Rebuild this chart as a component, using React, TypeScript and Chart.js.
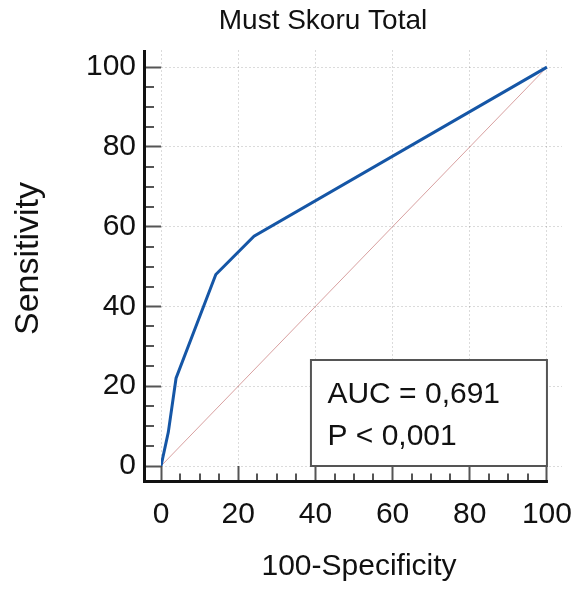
import { useEffect, useRef } from 'react';
import { Chart, registerables } from 'chart.js';

Chart.register(...registerables);

const chartTitle = 'Must Skoru Total';
const xAxisTitle = '100-Specificity';
const yAxisTitle = 'Sensitivity';
const falsePositiveRate = [0, 1.9, 3.9, 14.2, 24.1, 100];
const truePositiveRate = [0, 8.5, 22, 48, 57.6, 100];
const referenceX = [0, 100];
const referenceY = [0, 100];
const majorTicks = [0, 20, 40, 60, 80, 100];
const minorTicks = [5, 10, 15, 25, 30, 35, 45, 50, 55, 65, 70, 75, 85, 90, 95];
const statLines = ['AUC = 0,691', 'P < 0,001'];

const FONT = '"Liberation Sans", Arial, Helvetica, sans-serif';
const INK = '#111';

const decorPlugin = {
  id: 'decor',
  afterDraw(chart: any) {
    const { ctx, chartArea: a } = chart;
    const x = chart.scales.x;
    const y = chart.scales.y;
    const axX = a.left - 16.5;
    const axY = a.bottom + 15.5;
    ctx.save();
    // minor ticks
    ctx.strokeStyle = '#555';
    ctx.lineWidth = 2;
    for (const v of minorTicks) {
      const py = Math.round(y.getPixelForValue(v));
      ctx.beginPath();
      ctx.moveTo(axX, py);
      ctx.lineTo(axX + 9.5, py);
      ctx.stroke();
      const px = Math.round(x.getPixelForValue(v));
      ctx.beginPath();
      ctx.moveTo(px, axY);
      ctx.lineTo(px, axY - 8);
      ctx.stroke();
    }
    // axis lines
    ctx.strokeStyle = INK;
    ctx.lineWidth = 3;
    ctx.beginPath();
    ctx.moveTo(axX, a.top);
    ctx.lineTo(axX, axY + 1.5);
    ctx.stroke();
    ctx.beginPath();
    ctx.moveTo(axX - 1.5, axY);
    ctx.lineTo(x.getPixelForValue(100) + 1, axY);
    ctx.stroke();

    // statistics box
    const right = x.getPixelForValue(100);
    const bottom = y.getPixelForValue(0);
    const bw = 236;
    const bh = 106;
    ctx.fillStyle = '#fff';
    ctx.fillRect(right - bw, bottom - bh, bw, bh);
    ctx.strokeStyle = '#555';
    ctx.lineWidth = 2;
    ctx.strokeRect(right - bw, bottom - bh, bw, bh);
    ctx.fillStyle = INK;
    ctx.font = `30px ${FONT}`;
    ctx.textAlign = 'left';
    ctx.textBaseline = 'alphabetic';
    statLines.forEach((t, i) => {
      ctx.fillText(t, right - bw + 16.5, bottom - bh + 43 + i * 42);
    });

    // chart title
    ctx.font = `28px ${FONT}`;
    ctx.textAlign = 'center';
    ctx.fillText(chartTitle, 323, 29);

    // x axis title
    ctx.font = `30px ${FONT}`;
    ctx.fillText(xAxisTitle, 359, 575);

    // y axis title
    ctx.save();
    ctx.translate(37.5, 258.5);
    ctx.rotate(-Math.PI / 2);
    ctx.font = `34px ${FONT}`;
    ctx.textAlign = 'center';
    ctx.fillText(yAxisTitle, 0, 0);
    ctx.restore();

    ctx.restore();
  },
};

export default function App() {
  const ref = useRef<HTMLCanvasElement | null>(null);

  useEffect(() => {
    if (!ref.current) return;
    const chart = new Chart(ref.current, {
      type: 'scatter',
      data: {
        datasets: [
          {
            label: 'ROC',
            data: falsePositiveRate.map((v, i) => ({ x: v, y: truePositiveRate[i] })),
            showLine: true,
            borderColor: '#1556a6',
            borderWidth: 3,
            pointRadius: 0,
            tension: 0,
          },
          {
            label: 'Reference',
            data: referenceX.map((v, i) => ({ x: v, y: referenceY[i] })),
            showLine: true,
            borderColor: 'rgba(200, 120, 120, 0.7)',
            borderWidth: 1,
            pointRadius: 0,
          },
        ],
      },
      options: {
        responsive: false,
        animation: false,
        layout: { padding: { top: 50, right: 14, bottom: 0, left: 0 } },
        plugins: {
          legend: { display: false },
          tooltip: { enabled: false },
          title: { display: false },
        },
        scales: {
          x: {
            type: 'linear',
            min: 0,
            max: 103.9,
            afterBuildTicks: (s: any) => {
              s.ticks = majorTicks.map((v) => ({ value: v }));
            },
            afterFit: (s: any) => {
              s.height = 128;
              s.paddingLeft = 0;
              s.paddingRight = 0;
            },
            border: { display: false, dash: [2, 2] },
            grid: {
              color: 'rgba(0,0,0,0.14)',
              lineWidth: 1,
              drawTicks: true,
              tickLength: 15,
              tickColor: '#555',
              tickWidth: 2,
              tickBorderDash: [],
            },
            ticks: {
              padding: 16,
              maxRotation: 0,
              autoSkip: false,
              color: INK,
              font: { family: FONT, size: 30 },
            },
          },
          y: {
            type: 'linear',
            min: 0,
            max: 104.3,
            afterBuildTicks: (s: any) => {
              s.ticks = majorTicks.map((v) => ({ value: v }));
            },
            afterFit: (s: any) => {
              s.width = 161;
              s.paddingTop = 0;
              s.paddingBottom = 0;
            },
            border: { display: false, dash: [2, 2] },
            grid: {
              color: 'rgba(0,0,0,0.14)',
              lineWidth: 1,
              drawTicks: true,
              tickLength: 15,
              tickColor: '#555',
              tickWidth: 2,
              tickBorderDash: [],
            },
            ticks: {
              padding: 10,
              autoSkip: false,
              color: INK,
              font: { family: FONT, size: 30 },
            },
          },
        },
      },
      plugins: [decorPlugin],
    });
    return () => chart.destroy();
  }, []);

  return (
    <div style={{ position: 'fixed', left: 0, top: 0, width: 576, height: 594, background: '#fff' }}>
      <canvas ref={ref} width={576} height={594} style={{ display: 'block' }} />
    </div>
  );
}
